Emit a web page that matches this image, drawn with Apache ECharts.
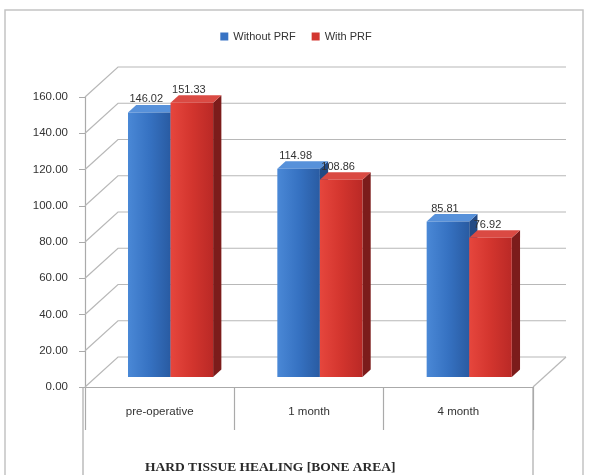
<!DOCTYPE html>
<html>
<head>
<meta charset="utf-8">
<script src="https://cdn.jsdelivr.net/npm/echarts@6/dist/echarts.min.js"></script>
<style>
  html, body { margin: 0; padding: 0; background: #fff; }
  #chart { width: 592px; height: 475px; }
</style>
</head>
<body>
<div id="chart"></div>
<script>
// Bone area per follow-up stage
const categories = ['pre-operative', '1 month', '4 month'];
const withoutPRF = [146.02, 114.98, 85.81];
const withPRF = [151.33, 108.86, 76.92];
const yTicks = [0, 20, 40, 60, 80, 100, 120, 140, 160];
const seriesNames = ['Without PRF', 'With PRF'];

// Oblique projection for the pseudo-3D floor, back wall and columns
const DEPTH = [33, -30];     // offset of the back wall from the front axis plane
const BAR_FRONT = 0.33;      // columns' front face, as a fraction of the depth
const BAR_BACK = 0.58;       // columns' back face

function shift(p, f) { return [p[0] + DEPTH[0] * f, p[1] + DEPTH[1] * f]; }

const palettes = [
  { front: ['#4a88d6', '#3672c2', '#295ba2'], side: '#234a84', top: '#5791da', solid: '#3873c4' },
  { front: ['#e6463d', '#d3352e', '#ba2926'], side: '#7c1c1b', top: '#da4a43', solid: '#d23630' }
];

function hGrad(stops) {
  return new echarts.graphic.LinearGradient(0, 0, 1, 0, [
    { offset: 0, color: stops[0] }, { offset: 0.5, color: stops[1] }, { offset: 1, color: stops[2] }
  ]);
}

function columnRenderer(k) {
  const pal = palettes[k];
  return function (params, api) {
    const idx = api.value(0);
    const v = api.value(1);
    const band = api.size([1, 0])[0];
    const base = api.coord([idx, 0]);
    const top = api.coord([idx, v]);
    const bw = band * 0.285;
    const x0 = base[0] - bw + k * bw;
    const x1 = x0 + bw;
    const A = shift([x0, base[1]], BAR_FRONT), B = shift([x1, base[1]], BAR_FRONT);
    const C = shift([x1, top[1]], BAR_FRONT), D = shift([x0, top[1]], BAR_FRONT);
    const Bb = shift([x1, base[1]], BAR_BACK), Cb = shift([x1, top[1]], BAR_BACK);
    const Db = shift([x0, top[1]], BAR_BACK);
    return {
      type: 'group',
      children: [
        { type: 'polygon', shape: { points: [B, Bb, Cb, C] }, style: { fill: pal.side } },
        { type: 'polygon', shape: { points: [D, C, Cb, Db] }, style: { fill: pal.top } },
        { type: 'polygon', shape: { points: [A, B, C, D] }, style: { fill: hGrad(pal.front) } },
        {
          type: 'text', z2: 10,
          style: {
            x: (A[0] + B[0]) / 2 - 3, y: D[1] - 13,
            text: v.toFixed(2), align: 'center', verticalAlign: 'middle',
            fontSize: 11, fontFamily: 'Liberation Sans, Arial, sans-serif', fill: '#333'
          }
        }
      ]
    };
  };
}

// Back wall gridlines, left wall diagonals and the floor outline
function wallRenderer(params, api) {
  const cs = params.coordSys;
  const v = api.value(1);
  const y = api.coord([0, v])[1];
  const xl = cs.x, xr = cs.x + cs.width;
  const back = shift([xl, y], 1);
  const lineStyle = { stroke: '#b8b8b8', lineWidth: 1.2, fill: null };
  const children = [
    { type: 'polyline', shape: { points: [[xl, y], back, [xr + DEPTH[0], y + DEPTH[1]]] }, style: lineStyle }
  ];
  if (v === 0) {
    children.push({ type: 'line', shape: { x1: xr, y1: y, x2: xr + DEPTH[0], y2: y + DEPTH[1] }, style: lineStyle });
    children.push({ type: 'line', shape: { x1: xl - 2, y1: y, x2: xl - 2, y2: 475 }, style: { stroke: '#aaa', lineWidth: 1.2 } });
    children.push({ type: 'line', shape: { x1: xr, y1: y, x2: xr, y2: 475 }, style: { stroke: '#aaa', lineWidth: 1.2 } });
  }
  return { type: 'group', children: children };
}

const chart = echarts.init(document.getElementById('chart'), null, { renderer: 'canvas' });

chart.setOption({
  animation: false,
  backgroundColor: '#fff',
  graphic: [{
    type: 'rect', silent: true, z: -10,
    shape: { x: 5, y: 10, width: 578, height: 475 },
    style: { fill: '#fff', stroke: '#c4c4c4', lineWidth: 1.5 }
  }],
  title: {
    text: 'HARD TISSUE HEALING [BONE AREA]',
    left: 140, top: 456,
    textStyle: { fontFamily: 'Liberation Serif, Times New Roman, serif', fontSize: 13.5, fontWeight: 'bold', color: '#2a2a2a' }
  },
  legend: {
    data: seriesNames,
    top: 26, left: 'center',
    icon: 'rect', itemWidth: 8, itemHeight: 8, itemGap: 16,
    textStyle: { fontSize: 11, color: '#333', fontFamily: 'Liberation Sans, Arial, sans-serif' }
  },
  grid: { left: 85, right: 59, top: 97, bottom: 88 },
  xAxis: {
    type: 'category',
    data: categories,
    axisLine: { lineStyle: { color: '#aaa', width: 1.2 } },
    axisTick: { show: true, length: 43, alignWithLabel: false, lineStyle: { color: '#aaa', width: 1.2 } },
    axisLabel: { margin: 19, fontSize: 11.5, color: '#333', fontFamily: 'Liberation Sans, Arial, sans-serif' },
    splitLine: { show: false }
  },
  yAxis: {
    type: 'value',
    min: 0, max: 160, interval: 20,
    axisLine: { show: true, lineStyle: { color: '#aaa', width: 1.2 } },
    axisTick: { show: true, length: 6, lineStyle: { color: '#aaa' } },
    axisLabel: {
      margin: 17, fontSize: 11.5, color: '#333', fontFamily: 'Liberation Sans, Arial, sans-serif',
      formatter: function (val) { return val.toFixed(2); }
    },
    splitLine: { show: false }
  },
  series: [
    {
      type: 'custom', name: 'wall', silent: true, z: 1,
      renderItem: wallRenderer,
      data: yTicks.map(function (t) { return [0, t]; })
    },
    {
      type: 'custom', name: seriesNames[0], z: 3,
      itemStyle: { color: palettes[0].solid },
      renderItem: columnRenderer(0),
      data: withoutPRF.map(function (v, i) { return [i, v]; })
    },
    {
      type: 'custom', name: seriesNames[1], z: 4,
      itemStyle: { color: palettes[1].solid },
      renderItem: columnRenderer(1),
      data: withPRF.map(function (v, i) { return [i, v]; })
    }
  ]
});
</script>
</body>
</html>
